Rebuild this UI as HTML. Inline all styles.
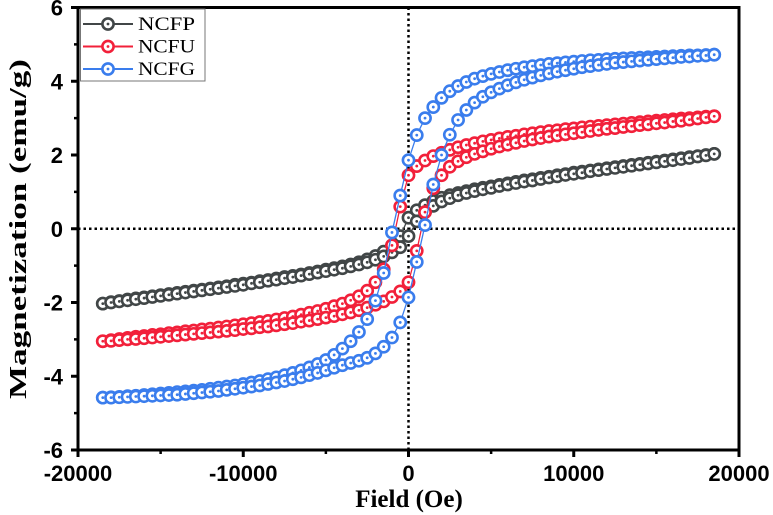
<!DOCTYPE html>
<html><head><meta charset="utf-8"><style>
html,body{margin:0;padding:0;background:#fff;}
svg{display:block;}
</style></head><body>
<svg id="chart" width="773" height="515" viewBox="0 0 773 515" xmlns="http://www.w3.org/2000/svg">
<g id="layer-grid"></g>
<g id="layer-data"></g>
<g id="layer-axes"></g>
<g id="layer-legend"></g>
</svg>
<script>
const fields = [-18500,-18000,-17500,-17000,-16500,-16000,-15500,-15000,-14500,-14000,-13500,-13000,-12500,-12000,-11500,-11000,-10500,-10000,-9500,-9000,-8500,-8000,-7500,-7000,-6500,-6000,-5500,-5000,-4500,-4000,-3500,-3000,-2500,-2000,-1500,-1000,-500,0,500,1000,1500,2000,2500,3000,3500,4000,4500,5000,5500,6000,6500,7000,7500,8000,8500,9000,9500,10000,10500,11000,11500,12000,12500,13000,13500,14000,14500,15000,15500,16000,16500,17000,17500,18000,18500];
const ncfpUpper = [-2.03,-1.99,-1.96,-1.92,-1.89,-1.86,-1.83,-1.8,-1.77,-1.74,-1.71,-1.68,-1.65,-1.62,-1.59,-1.56,-1.52,-1.49,-1.46,-1.42,-1.39,-1.35,-1.31,-1.28,-1.24,-1.2,-1.16,-1.11,-1.07,-1.02,-0.97,-0.91,-0.83,-0.74,-0.62,-0.45,-0.2,0.3,0.5,0.64,0.75,0.84,0.91,0.97,1.02,1.07,1.11,1.15,1.19,1.23,1.27,1.31,1.34,1.38,1.41,1.45,1.48,1.52,1.55,1.58,1.61,1.64,1.67,1.7,1.73,1.76,1.79,1.82,1.85,1.88,1.91,1.94,1.97,2.0,2.03];
const ncfpLower = [-2.03,-2.0,-1.97,-1.94,-1.91,-1.88,-1.85,-1.82,-1.79,-1.76,-1.73,-1.7,-1.67,-1.64,-1.61,-1.58,-1.55,-1.52,-1.48,-1.45,-1.41,-1.38,-1.34,-1.31,-1.27,-1.23,-1.19,-1.15,-1.11,-1.07,-1.02,-0.97,-0.91,-0.84,-0.75,-0.64,-0.5,-0.2,0.2,0.45,0.62,0.74,0.83,0.91,0.97,1.02,1.07,1.11,1.16,1.2,1.24,1.28,1.31,1.35,1.39,1.42,1.46,1.49,1.52,1.56,1.59,1.62,1.65,1.68,1.71,1.74,1.77,1.8,1.83,1.86,1.89,1.92,1.96,1.99,2.03];
const ncfuUpper = [-3.05,-3.02,-2.99,-2.96,-2.93,-2.91,-2.88,-2.86,-2.83,-2.81,-2.78,-2.76,-2.73,-2.71,-2.68,-2.65,-2.62,-2.59,-2.56,-2.53,-2.5,-2.46,-2.42,-2.38,-2.33,-2.28,-2.23,-2.17,-2.1,-2.03,-1.94,-1.83,-1.68,-1.45,-1.1,-0.45,0.6,1.45,1.7,1.85,1.97,2.06,2.14,2.21,2.27,2.32,2.37,2.41,2.45,2.49,2.52,2.56,2.59,2.62,2.65,2.67,2.7,2.72,2.75,2.77,2.79,2.81,2.83,2.85,2.87,2.89,2.91,2.93,2.95,2.97,2.99,3.0,3.02,3.04,3.05];
const ncfuLower = [-3.05,-3.04,-3.02,-3.0,-2.99,-2.97,-2.95,-2.93,-2.91,-2.89,-2.87,-2.85,-2.83,-2.81,-2.79,-2.77,-2.75,-2.72,-2.7,-2.67,-2.65,-2.62,-2.59,-2.56,-2.52,-2.49,-2.45,-2.41,-2.37,-2.32,-2.27,-2.21,-2.14,-2.06,-1.97,-1.85,-1.7,-1.45,-0.6,0.45,1.1,1.45,1.68,1.83,1.94,2.03,2.1,2.17,2.23,2.28,2.33,2.38,2.42,2.46,2.5,2.53,2.56,2.59,2.62,2.65,2.68,2.71,2.73,2.76,2.78,2.81,2.83,2.86,2.88,2.91,2.93,2.96,2.99,3.02,3.05];
const ncfgUpper = [-4.58,-4.57,-4.56,-4.54,-4.53,-4.51,-4.49,-4.47,-4.45,-4.43,-4.41,-4.39,-4.37,-4.34,-4.31,-4.28,-4.25,-4.21,-4.17,-4.13,-4.08,-4.03,-3.97,-3.91,-3.84,-3.76,-3.67,-3.56,-3.42,-3.25,-3.05,-2.8,-2.45,-1.95,-1.2,-0.1,0.9,1.86,2.54,3.0,3.3,3.55,3.73,3.87,3.98,4.07,4.14,4.2,4.25,4.3,4.34,4.38,4.41,4.44,4.47,4.49,4.51,4.53,4.55,4.57,4.58,4.6,4.61,4.62,4.63,4.64,4.65,4.66,4.67,4.68,4.69,4.7,4.7,4.71,4.72];
const ncfgLower = [-4.58,-4.58,-4.57,-4.56,-4.55,-4.54,-4.53,-4.52,-4.51,-4.5,-4.48,-4.46,-4.44,-4.42,-4.4,-4.37,-4.34,-4.31,-4.28,-4.25,-4.21,-4.17,-4.13,-4.08,-4.03,-3.97,-3.91,-3.84,-3.77,-3.7,-3.64,-3.58,-3.5,-3.38,-3.2,-2.95,-2.54,-1.86,-0.9,0.1,1.2,2.0,2.55,2.95,3.22,3.42,3.58,3.7,3.8,3.89,3.97,4.04,4.1,4.16,4.21,4.26,4.3,4.34,4.38,4.41,4.44,4.47,4.5,4.52,4.54,4.56,4.58,4.6,4.62,4.64,4.66,4.67,4.69,4.7,4.72];
const seriesNames = ["NCFP","NCFU","NCFG"];
const xTicks = [-20000,-10000,0,10000,20000];
const xTickLabels = ["-20000","-10000","0","10000","20000"];
const yTicks = [-6,-4,-2,0,2,4,6];
const yTickLabels = ["-6","-4","-2","0","2","4","6"];

const NS = "http://www.w3.org/2000/svg";
const PL = 78, PR = 739, PT = 7.5, PB = 450;
const xS = v => PL + (v + 20000) / 40000 * (PR - PL);
const yS = v => PB - (v + 6) / 12 * (PB - PT);
function mk(tag, attrs, parent) {
  const e = document.createElementNS(NS, tag);
  for (const k in attrs) e.setAttribute(k, attrs[k]);
  parent.appendChild(e);
  return e;
}
const gGrid = document.getElementById('layer-grid');
const gData = document.getElementById('layer-data');
const gAxes = document.getElementById('layer-axes');
const gLeg = document.getElementById('layer-legend');

// zero lines
let zl = mk('line', {x1: xS(0), x2: xS(0), y1: PT, y2: PB, stroke: '#000', 'stroke-width': 2.5, 'stroke-dasharray': '2.5,3'}, gGrid);


zl = mk('line', {x1: PL, x2: PR, y1: yS(0), y2: yS(0), stroke: '#000', 'stroke-width': 2.5, 'stroke-dasharray': '2.5,3'}, gGrid);



const colors = ["#414647", "#f2203a", "#3a7ded"];
const branches = [[ncfpUpper, ncfpLower], [ncfuUpper, ncfuLower], [ncfgUpper, ncfgLower]];

function marker(cx, cy, color, parent) {
  const g = mk('g', {}, parent);
  mk('circle', {cx: cx, cy: cy, r: 5.6, fill: '#fff', stroke: color, 'stroke-width': 2.6}, g);
  mk('circle', {cx: cx, cy: cy, r: 1.4, fill: color}, g);
  return g;
}

branches.forEach((br, si) => {
  const sg = mk('g', {}, gData);
  
  
  br.forEach((vals, bi) => {
    const pts = fields.map((f, i) => xS(f) + ',' + yS(vals[i])).join(' ');
    const ln = mk('polyline', {points: pts, fill: 'none', stroke: colors[si], 'stroke-width': 1.3}, sg);
    
    
  });
  br.forEach((vals, bi) => {
    fields.forEach((f, i) => {
      const m = marker(xS(f), yS(vals[i]), colors[si], sg);
      
      
    });
  });
});

// frame
const fr = mk('rect', {x: PL, y: PT, width: PR - PL, height: PB - PT, fill: 'none', stroke: '#000', 'stroke-width': 3}, gAxes);



// x ticks
xTicks.forEach((t, i) => {
  const x = xS(t);
  mk('line', {x1: x, x2: x, y1: PB, y2: PB + 7, stroke: '#000', 'stroke-width': 3}, gAxes);
  const lb = mk('text', {x: x, y: 481, 'text-anchor': 'middle', 'font-family': 'Liberation Sans, Arial, sans-serif', 'font-weight': 'bold', 'font-size': 22}, gAxes);
  lb.textContent = xTickLabels[i];
  
  
  if (i < xTicks.length - 1) {
    const xm = xS(t + 5000);
    mk('line', {x1: xm, x2: xm, y1: PB, y2: PB + 4, stroke: '#000', 'stroke-width': 2.5}, gAxes);
  }
});
// y ticks
yTicks.forEach((t, i) => {
  const y = yS(t);
  mk('line', {x1: PL - 7, x2: PL, y1: y, y2: y, stroke: '#000', 'stroke-width': 3}, gAxes);
  const lb = mk('text', {x: 63, y: y + 8, 'text-anchor': 'end', 'font-family': 'Liberation Sans, Arial, sans-serif', 'font-weight': 'bold', 'font-size': 22}, gAxes);
  lb.textContent = yTickLabels[i];
  
  
  if (i < yTicks.length - 1) {
    const ym = yS(t + 1);
    mk('line', {x1: PL - 4, x2: PL, y1: ym, y2: ym, stroke: '#000', 'stroke-width': 2.5}, gAxes);
  }
});
// titles
const xt = mk('text', {x: 409, y: 507, 'text-anchor': 'middle', 'font-family': 'Liberation Serif, Times New Roman, serif', 'font-weight': 'bold', 'font-size': 25}, gAxes);
xt.textContent = 'Field (Oe)';


const yt = mk('text', {x: 0, y: 0, 'text-anchor': 'middle', 'font-family': 'Liberation Serif, Times New Roman, serif', 'font-weight': 'bold', 'font-size': 24, transform: 'translate(26,229) rotate(-90)', textLength: 340, lengthAdjust: 'spacingAndGlyphs'}, gAxes);
yt.textContent = 'Magnetization (emu/g)';



// legend
const lbox = mk('rect', {x: 80.5, y: 9, width: 124.5, height: 72, fill: '#fff', stroke: '#777', 'stroke-width': 1}, gLeg);


seriesNames.forEach((n, i) => {
  const y = 24 + i * 22.5;
  const eg = mk('g', {}, gLeg);
  
  
  mk('line', {x1: 83, x2: 133, y1: y, y2: y, stroke: colors[i], 'stroke-width': 2}, eg);
  marker(108, y, colors[i], eg);
  const t = mk('text', {x: 138, y: y + 6, 'font-family': 'Liberation Serif, Times New Roman, serif', 'font-size': 19, textLength: 57, lengthAdjust: 'spacingAndGlyphs'}, eg);
  t.textContent = n;
});
</script>
</body></html>
